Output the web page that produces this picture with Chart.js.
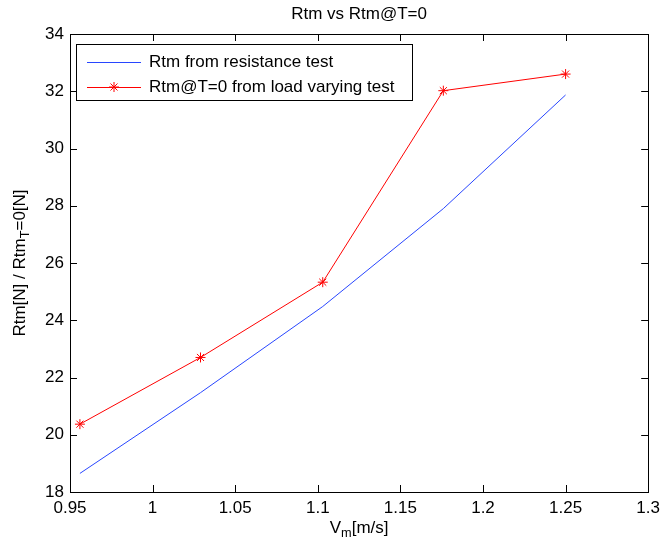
<!DOCTYPE html>
<html>
<head>
<meta charset="utf-8">
<script src="https://cdn.jsdelivr.net/npm/chart.js@4/dist/chart.umd.min.js"></script>
<style>
  html, body { margin: 0; padding: 0; background: #fff; }
  canvas { display: block; }
</style>
</head>
<body>
<canvas id="chart" width="666" height="548"></canvas>
<script>
// values
const speeds = [0.956, 1.029, 1.103, 1.176, 1.25];
const rtmResistance = [18.65, 21.47, 24.48, 27.9, 31.87];
const rtmLoadVarying = [20.37, 22.7, 25.33, 32.02, 32.6];
const seriesNames = ['Rtm from resistance test', 'Rtm@T=0 from load varying test'];
const titleText = 'Rtm vs Rtm@T=0';

const FONT = '"Liberation Sans", Arial, Helvetica, sans-serif';
const FSIZE = 17;
const BLUE = 'rgb(40, 70, 255)';
const RED = 'rgb(255, 0, 0)';

function toPoints(ys) {
  return speeds.map((x, i) => ({ x: x, y: ys[i] }));
}

// text with a subscript part, drawn left to right from x
function drawSub(ctx, parts, x, y) {
  parts.forEach(p => {
    const size = p.sub ? FSIZE * 0.75 : FSIZE;
    ctx.font = size + 'px ' + FONT;
    ctx.fillText(p.t, x, y + (p.sub ? 5 : 0));
    x += ctx.measureText(p.t).width;
  });
}
function subWidth(ctx, parts) {
  let w = 0;
  parts.forEach(p => {
    ctx.font = (p.sub ? FSIZE * 0.75 : FSIZE) + 'px ' + FONT;
    w += ctx.measureText(p.t).width;
  });
  return w;
}

const matlabFrame = {
  id: 'matlabFrame',
  afterDraw(chart) {
    const ctx = chart.ctx;
    const a = chart.chartArea;
    const xs = chart.scales.x, ys = chart.scales.y;
    ctx.save();

    // axes box
    ctx.strokeStyle = '#000';
    ctx.lineWidth = 1;
    ctx.strokeRect(Math.round(a.left) + 0.5, Math.round(a.top) + 0.5,
      Math.round(a.right - a.left), Math.round(a.bottom - a.top));

    // inward ticks on all four sides
    const tl = 7;
    ctx.beginPath();
    xs.ticks.forEach(t => {
      const px = Math.round(xs.getPixelForValue(t.value)) + 0.5;
      ctx.moveTo(px, a.bottom); ctx.lineTo(px, a.bottom - tl);
      ctx.moveTo(px, a.top); ctx.lineTo(px, a.top + tl);
    });
    ys.ticks.forEach(t => {
      const py = Math.round(ys.getPixelForValue(t.value)) + 0.5;
      ctx.moveTo(a.left, py); ctx.lineTo(a.left + tl, py);
      ctx.moveTo(a.right, py); ctx.lineTo(a.right - tl, py);
    });
    ctx.stroke();

    ctx.fillStyle = '#000';
    ctx.textBaseline = 'middle';

    // title
    ctx.font = FSIZE + 'px ' + FONT;
    ctx.textAlign = 'center';
    ctx.fillText(titleText, (a.left + a.right) / 2, 14);

    // x label  V_m[m/s]
    ctx.textAlign = 'left';
    const xl = [{ t: 'V' }, { t: 'm', sub: true }, { t: '[m/s]' }];
    drawSub(ctx, xl, (a.left + a.right) / 2 - subWidth(ctx, xl) / 2, 528);

    // y label  Rtm[N] / Rtm_T=0[N]
    const yl = [{ t: 'Rtm[N] / Rtm' }, { t: 'T', sub: true }, { t: '=0[N]' }];
    ctx.save();
    ctx.translate(20, (a.top + a.bottom) / 2);
    ctx.rotate(-Math.PI / 2);
    drawSub(ctx, yl, -subWidth(ctx, yl) / 2, 0);
    ctx.restore();

    // legend box
    const lx = a.left + 6, ly = a.top + 10, lw = 336, lh = 56;
    ctx.fillStyle = '#fff';
    ctx.fillRect(lx, ly, lw, lh);
    ctx.strokeStyle = '#000';
    ctx.strokeRect(Math.round(lx) + 0.5, Math.round(ly) + 0.5, lw, lh);
    const colors = [BLUE, RED];
    seriesNames.forEach((name, i) => {
      const ry = ly + 18 + i * 25;
      ctx.strokeStyle = colors[i];
      ctx.beginPath();
      ctx.moveTo(lx + 11, ry + 0.5); ctx.lineTo(lx + 65, ry + 0.5);
      ctx.stroke();
      if (i === 1) {
        const cx = lx + 38, r = 5;
        ctx.beginPath();
        ctx.moveTo(cx - r, ry); ctx.lineTo(cx + r, ry);
        ctx.moveTo(cx, ry - r); ctx.lineTo(cx, ry + r);
        ctx.moveTo(cx - r * 0.7, ry - r * 0.7); ctx.lineTo(cx + r * 0.7, ry + r * 0.7);
        ctx.moveTo(cx - r * 0.7, ry + r * 0.7); ctx.lineTo(cx + r * 0.7, ry - r * 0.7);
        ctx.stroke();
      }
      ctx.fillStyle = '#000';
      ctx.textAlign = 'left';
      ctx.font = FSIZE + 'px ' + FONT;
      ctx.fillText(name, lx + 73, ry);
    });

    ctx.restore();
  }
};

new Chart(document.getElementById('chart'), {
  type: 'line',
  data: {
    datasets: [
      {
        label: seriesNames[0],
        data: toPoints(rtmResistance),
        borderColor: BLUE,
        borderWidth: 1,
        pointRadius: 0,
        tension: 0
      },
      {
        label: seriesNames[1],
        data: toPoints(rtmLoadVarying),
        borderColor: RED,
        backgroundColor: RED,
        borderWidth: 1,
        pointStyle: 'star',
        pointRadius: 5,
        pointBorderWidth: 1,
        tension: 0
      }
    ]
  },
  options: {
    responsive: false,
    animation: false,
    layout: { padding: { top: 34, right: 16, left: 0, bottom: 0 } },
    plugins: {
      legend: { display: false },
      title: { display: false },
      tooltip: { enabled: false }
    },
    scales: {
      x: {
        type: 'linear',
        min: 0.95,
        max: 1.3,
        grid: { display: false, drawTicks: false },
        border: { display: false },
        afterFit(scale) { scale.height = 56; },
        ticks: {
          stepSize: 0.05,
          autoSkip: false,
          maxRotation: 0,
          padding: 6,
          color: '#000',
          font: { family: FONT, size: FSIZE },
          callback: v => String(Number(v.toFixed(2)))
        }
      },
      y: {
        min: 18,
        max: 34,
        grid: { display: false, drawTicks: false },
        border: { display: false },
        afterFit(scale) { scale.width = 70; },
        ticks: {
          stepSize: 2,
          padding: 6,
          color: '#000',
          font: { family: FONT, size: FSIZE },
          callback: v => String(v)
        }
      }
    }
  },
  plugins: [matlabFrame]
});
</script>
</body>
</html>
